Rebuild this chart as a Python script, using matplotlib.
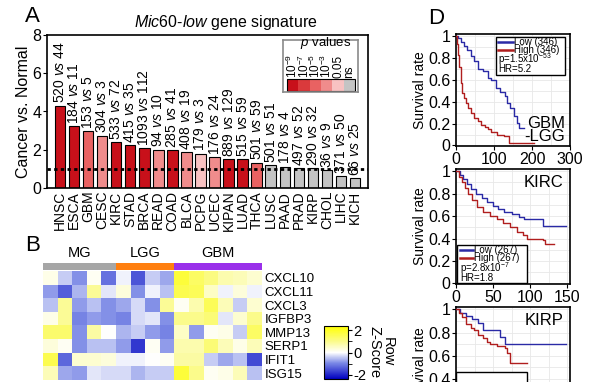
import numpy as np
import matplotlib
matplotlib.use("Agg")
from matplotlib import pyplot as plt
from matplotlib.colors import LinearSegmentedColormap, Normalize
from matplotlib.cm import ScalarMappable
from matplotlib.patches import Rectangle

plt.rcParams['font.family'] = ['Liberation Sans', 'DejaVu Sans']
plt.rcParams['mathtext.fontset'] = 'custom'
plt.rcParams['mathtext.rm'] = 'Liberation Sans'
plt.rcParams['mathtext.it'] = 'Liberation Sans:italic'
plt.rcParams['mathtext.bf'] = 'Liberation Sans:bold'

# ---- panel A data
cancers = ['HNSC', 'ESCA', 'GBM', 'CESC', 'KIRC', 'STAD', 'BRCA', 'READ', 'COAD', 'BLCA', 'PCPG',
           'UCEC', 'KIPAN', 'LUAD', 'THCA', 'LUSC', 'PAAD', 'PRAD', 'KIRP', 'CHOL', 'LIHC', 'KICH']
ratio = [4.30, 3.22, 2.99, 2.73, 2.40, 2.23, 2.09, 2.00, 1.97, 1.88, 1.79,
         1.60, 1.51, 1.51, 1.32, 1.20, 1.12, 1.05, 1.02, 0.92, 0.62, 0.52]
n_cancer = [520, 184, 153, 304, 533, 415, 1093, 94, 285, 408, 179,
            176, 889, 515, 501, 501, 178, 497, 290, 36, 371, 66]
n_normal = [44, 11, 5, 3, 72, 35, 112, 10, 41, 19, 3,
            24, 129, 59, 59, 51, 4, 52, 32, 9, 50, 25]
p_level = [0, 0, 2, 3, 0, 0, 0, 3, 0, 3, 4, 3, 0, 0, 2, 5, 5, 5, 5, 5, 5, 5]
p_names = ['10$^{-9}$', '10$^{-7}$', '10$^{-5}$', '10$^{-3}$', '0.05', 'ns']
p_colors = ['#c8101a', '#da3a3c', '#e96262', '#f08c8c', '#f8c2c2', '#c4c4c4']

# ---- panel B data
genes = ['CXCL10', 'CXCL11', 'CXCL3', 'IGFBP3', 'MMP13', 'SERP1', 'IFIT1', 'ISG15']
groups = ['MG', 'LGG', 'GBM']
group_size = [5, 4, 6]
group_colors = ['#a6a6a6', '#ff7f10', '#9a30ea']
zscore = np.array([
    [0.2, -0.4, -0.9, 0.1, -1.2, -0.1, -1.5, -0.4, -0.7, 1.8, 1.4, 1.1, 0.7, 0.6, 0.4],
    [-0.8, -1.4, -0.6, 0.9, -0.2, 0.3, -0.9, -0.1, -0.5, 1.6, 1.5, 0.5, -0.1, 0.3, -0.1],
    [-0.5, 0.9, -0.8, -0.5, -0.9, -0.7, -0.3, -0.9, 0.9, 0.1, 0.7, 1.5, 0.6, -0.4, 0.4],
    [0.2, 0.9, -1.0, -0.8, -0.9, -1.0, -0.3, -0.2, -0.9, 1.0, 1.0, 1.2, -0.2, 0.4, 1.0],
    [1.3, 1.3, -0.9, 0.8, 0.0, -0.6, -0.4, -0.8, -1.0, 0.5, -0.8, 0.1, 0.2, -0.4, 1.4],
    [0.3, 0.1, -0.9, -0.5, -0.5, -0.8, -1.8, 0.1, -0.8, 0.7, 0.7, 1.2, 0.6, 0.2, 0.6],
    [1.6, -1.3, 0.4, 0.4, 0.3, -0.1, -0.1, 0.0, 0.1, 0.8, 0.8, -0.4, -0.7, -0.5, -1.6],
    [0.6, -0.7, -0.8, -0.2, -0.3, -0.3, -0.6, -0.4, -0.4, 1.8, 1.0, 0.1, 0.2, 0.6, -0.5],
])

# ---- panel D data (Kaplan-Meier curves, months vs survival)
gbm_low_t = [0, 5, 12, 20, 30, 40, 48, 57, 70, 83, 91, 104, 117, 130, 134, 143, 152, 161, 165, 178]
gbm_low_s = [1, 0.98, 0.95, 0.91, 0.87, 0.82, 0.77, 0.70, 0.68, 0.62, 0.60, 0.53, 0.49, 0.45, 0.39, 0.34, 0.27, 0.21, 0.16, 0.16]
gbm_high_t = [0, 3, 6, 9, 13, 17, 22, 26, 32, 39, 48, 57, 65, 75, 83, 91, 109, 126, 139, 204]
gbm_high_s = [1, 0.93, 0.83, 0.72, 0.57, 0.48, 0.43, 0.39, 0.34, 0.30, 0.25, 0.22, 0.19, 0.17, 0.15, 0.12, 0.10, 0.085, 0.025, 0.025]
kirc_low_t = [0, 5, 10, 15, 20, 27, 35, 42, 50, 57, 65, 75, 85, 92, 115, 117, 149]
kirc_low_s = [1, 0.97, 0.93, 0.89, 0.84, 0.80, 0.76, 0.73, 0.69, 0.66, 0.64, 0.62, 0.59, 0.57, 0.57, 0.51, 0.51]
kirc_high_t = [0, 4, 8, 12, 16, 22, 28, 36, 46, 55, 64, 73, 82, 90, 96, 118, 120, 133]
kirc_high_s = [1, 0.95, 0.90, 0.85, 0.80, 0.74, 0.68, 0.64, 0.60, 0.57, 0.54, 0.50, 0.46, 0.43, 0.40, 0.39, 0.35, 0.35]
kirp_low_t = [0, 5, 14, 22, 30, 37, 55, 60, 66, 148]
kirp_low_s = [1, 0.97, 0.94, 0.92, 0.88, 0.82, 0.82, 0.76, 0.70, 0.70]
kirp_high_t = [0, 4, 8, 14, 20, 24, 30, 37, 42, 46, 55, 66, 69, 73, 96]
kirp_high_s = [1, 0.97, 0.93, 0.87, 0.84, 0.82, 0.78, 0.75, 0.72, 0.70, 0.68, 0.67, 0.62, 0.54, 0.54]

W, H = 590, 382
fig = plt.figure(figsize=(W / 100, H / 100), dpi=100)


def px_axes(x0, y0, x1, y1):
    # axes from pixel box (top-left origin)
    return fig.add_axes([x0 / W, 1 - y1 / H, (x1 - x0) / W, (y1 - y0) / H])


# ================= A
ax = px_axes(47, 35, 368, 188)
x = np.arange(len(cancers))
ax.bar(x, ratio, width=0.74, color=[p_colors[i] for i in p_level],
       edgecolor='black', linewidth=0.8, zorder=2)
ax.axhline(1, color='black', ls=(0, (1.2, 1.2)), lw=2, zorder=3)
for xi, r, a, b in zip(x, ratio, n_cancer, n_normal):
    ax.text(xi, r + 0.12, f"{a} $\\it{{vs}}$ {b}", rotation=90,
            ha='center', va='bottom', fontsize=10)
ax.set_xlim(-0.93, len(cancers) - 0.07)
ax.set_ylim(0, 8)
ax.set_yticks([0, 2, 4, 6, 8])
ax.set_xticks(x)
ax.set_xticklabels(cancers, rotation=90, fontsize=10)
ax.tick_params(axis='x', length=0, pad=2)
ax.tick_params(axis='y', labelsize=11.5, length=3, pad=1)
ax.set_ylabel('Cancer vs. Normal', fontsize=11.5, labelpad=1)
for s in ax.spines.values():
    s.set_linewidth(1.2)

fig.text(226 / W, 1 - 22 / H, r"$\it{Mic60}$-$\it{low}$ gene signature",
         ha='center', va='center', fontsize=11.5)

# p value legend
lax = px_axes(283, 40, 358, 92)
lax.set_xlim(283, 358)
lax.set_ylim(92, 40)
lax.set_xticks([])
lax.set_yticks([])
for s in lax.spines.values():
    s.set_color('#8a8a8a')
    s.set_linewidth(1.2)
lax.text(326, 43, r"$\it{p}$ values", ha='center', va='center', fontsize=9.5)
sq = (355 - 287) / len(p_colors)
for i, (nm, c) in enumerate(zip(p_names, p_colors)):
    lax.add_patch(Rectangle((287 + i * sq, 79), sq, 12, color=c, lw=0))
    lax.text(287 + (i + 0.5) * sq, 77.5, nm, rotation=90, ha='center', va='bottom', fontsize=8.5)
lax.add_patch(Rectangle((287, 79), 68, 12, fill=False, ec='black', lw=0.8))

# ================= B
cmap = LinearSegmentedColormap.from_list(
    'bwy', [(0, '#0000c0'), (0.3, '#7a88e6'), (0.5, '#ffffff'), (0.72, '#fbfb86'), (1, '#ffff00')])
norm = Normalize(-2.4, 2.4)

gax = px_axes(43, 263, 262, 270)
left = np.cumsum([0] + group_size[:-1])
gax.barh(0, group_size, left=left, height=1, color=group_colors)
for g, l, n in zip(groups, left, group_size):
    gax.text(l + n / 2, 0.95, g, ha='center', va='bottom', fontsize=10.5)
gax.set_xlim(0, sum(group_size))
gax.set_ylim(-0.5, 0.5)
gax.axis('off')

hax = px_axes(43, 271, 262, 380)
hax.imshow(zscore, cmap=cmap, norm=norm, aspect='auto', interpolation='nearest')
hax.set_yticks(range(len(genes)))
hax.set_yticklabels(genes, fontsize=9.5)
hax.yaxis.tick_right()
hax.set_xticks([])
hax.tick_params(length=0, pad=2)
for s in hax.spines.values():
    s.set_visible(False)

cax = px_axes(324, 326, 348, 379)
cb = fig.colorbar(ScalarMappable(norm=norm, cmap=cmap), cax=cax, ticks=[-2, 0, 2])
cb.ax.set_yticklabels(['-2', '0', '2'], fontsize=10.5)
cb.ax.set_yticks([-1, 1], minor=True)
cb.ax.tick_params(which='both', direction='out', length=3, pad=1)
cb.outline.set_linewidth(0.8)
fig.text(381 / W, 1 - 352 / H, 'Row\nZ-Score', rotation=-90, ha='center', va='center',
         fontsize=10.5, linespacing=0.9)

# ================= D
blue, red = '#2a2aa6', '#b01e1e'
km = [
    ((456, 34, 570, 146), 300, 50, gbm_low_t, gbm_low_s, gbm_high_t, gbm_high_s),
    ((456, 169, 570, 284), 154, 25, kirc_low_t, kirc_low_s, kirc_high_t, kirc_high_s),
    ((456, 307, 570, 426), 154, 25, kirp_low_t, kirp_low_s, kirp_high_t, kirp_high_s),
]
kax = []
for box, xmax, minor, lt, ls_, ht, hs in km:
    a = px_axes(*box)
    a.step(lt, ls_, where='post', color=blue, lw=1, zorder=3)
    a.step(ht, hs, where='post', color=red, lw=1, zorder=3)
    a.set_xlim(0, xmax)
    a.set_ylim(-0.005, 1.02)
    a.set_xticks(np.arange(0, xmax + 1, 2 * minor))
    a.set_xticks(np.arange(0, xmax + 1, minor), minor=True)
    a.set_yticks([0, 0.2, 0.4, 0.6, 0.8, 1])
    a.set_yticklabels(['0', '0.2', '0.4', '0.6', '0.8', '1'])
    a.set_yticks(np.arange(0, 1.01, 0.1), minor=True)
    a.grid(which='both', color='#e8e8e8', lw=0.6, zorder=0)
    a.tick_params(which='major', labelsize=11.5, length=3, pad=1)
    a.tick_params(which='minor', length=0)
    a.set_ylabel('Survival rate', fontsize=10, labelpad=1)
    for s in a.spines.values():
        s.set_linewidth(1.2)
    kax.append(a)
# bottom plot runs off the page: its lower labels are not visible
kax[2].tick_params(labelbottom=False)
kax[2].set_yticks([0.4, 0.6, 0.8, 1])
kax[2].set_yticklabels(['0.4', '0.6', '0.8', '1'])


def km_legend(a, box, y_rows, x0, x1, low_lab, high_lab, p_lab, hr_lab):
    a.add_patch(Rectangle(box[:2], box[2], box[3], transform=a.transAxes, fc='white',
                          ec='black', lw=1, zorder=4))
    for yy, c, lab in [(y_rows[0], blue, low_lab), (y_rows[1], red, high_lab)]:
        a.plot([x0, x1], [yy, yy], color=c, lw=1.8, transform=a.transAxes, zorder=5)
        a.text(x1 + 0.005, yy, lab, transform=a.transAxes, va='center', fontsize=7, zorder=5)
    a.text(x0, y_rows[2], p_lab, transform=a.transAxes, va='center', fontsize=7, zorder=5)
    a.text(x0, y_rows[3], hr_lab, transform=a.transAxes, va='center', fontsize=7, zorder=5)


km_legend(kax[0], (0.35, 0.634, 0.606, 0.339), (0.93, 0.855, 0.772, 0.685), 0.371, 0.50,
          'Low (346)', 'High (346)', 'p=1.5x10$^{-53}$', 'HR=5.2')
km_legend(kax[1], (0.006, 0.012, 0.614, 0.33), (0.296, 0.223, 0.138, 0.055), 0.035, 0.152,
          'Low (267)', 'High (267)', 'p=2.8x10$^{-7}$', 'HR=1.8')
kax[2].add_patch(Rectangle((0.0, 0.12), 0.62, 0.334, transform=kax[2].transAxes, fc='white',
                           ec='black', lw=1, zorder=4))

kax[0].text(0.955, 0.14, 'GBM\n-LGG', transform=kax[0].transAxes, ha='right', va='center',
            fontsize=12, linespacing=0.85)
kax[1].text(0.94, 0.95, 'KIRC', transform=kax[1].transAxes, ha='right', va='top', fontsize=12)
kax[2].text(0.94, 0.95, 'KIRP', transform=kax[2].transAxes, ha='right', va='top', fontsize=12)

fig.text(25 / W, 1 - 17 / H, 'A', fontsize=16, va='center')
fig.text(25 / W, 1 - 246 / H, 'B', fontsize=16, va='center')
fig.text(428 / W, 1 - 19 / H, 'D', fontsize=16, va='center')

fig.savefig('out.png', dpi=100)
